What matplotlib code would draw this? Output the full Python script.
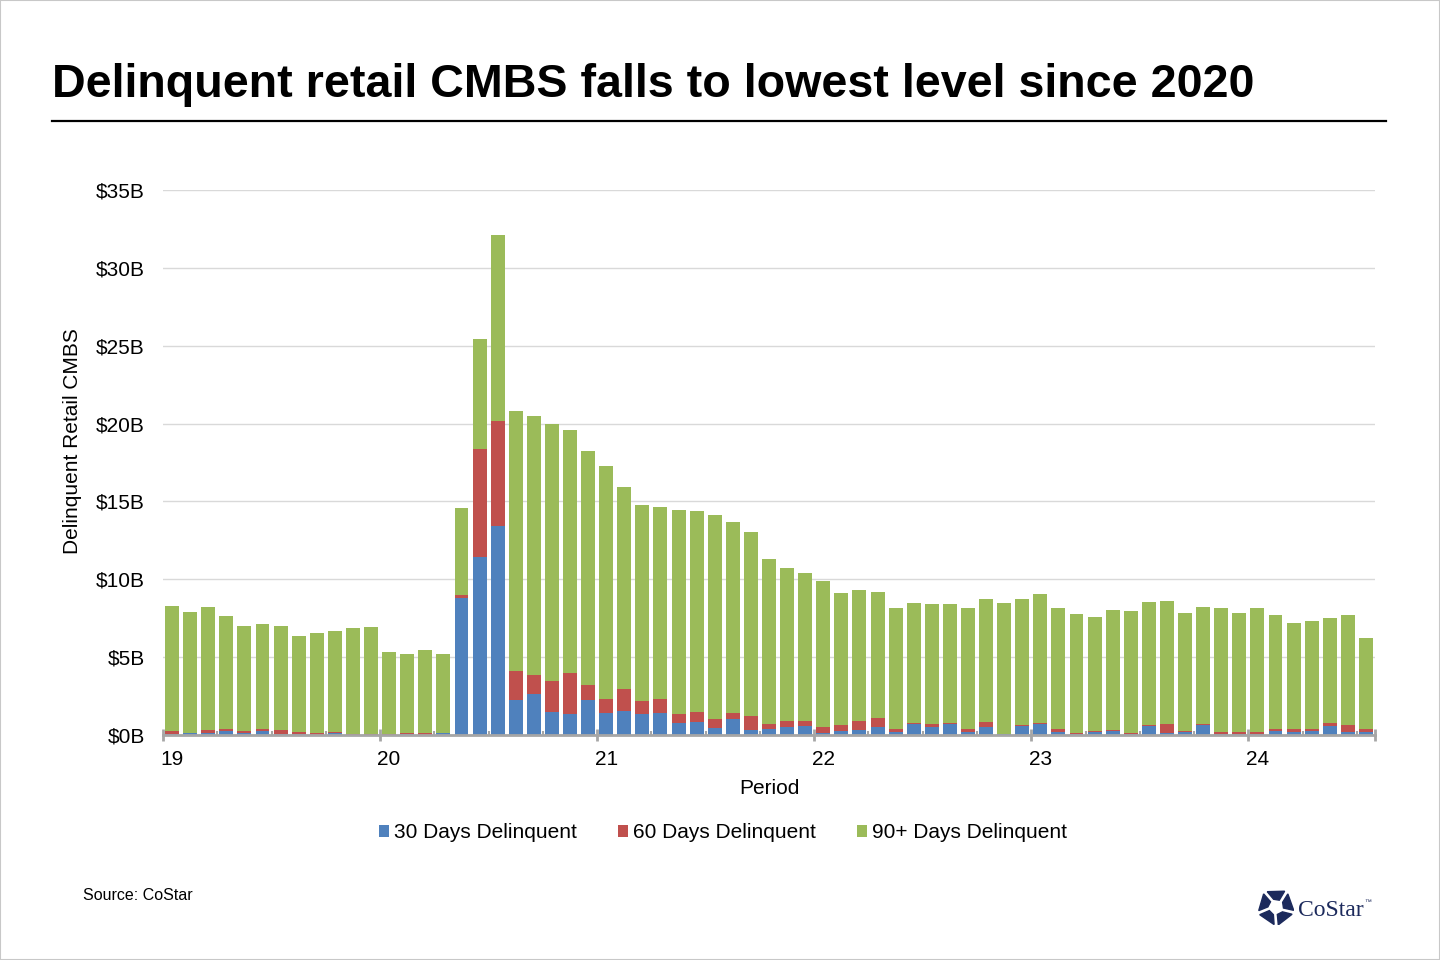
import numpy as np
import pandas as pd
import matplotlib
matplotlib.use("Agg")
import matplotlib.pyplot as plt
from matplotlib.patches import Patch, Rectangle, Polygon
from matplotlib.lines import Line2D

plt.rcParams['font.family'] = ['Liberation Sans', 'DejaVu Sans']

# monthly periods, Jan 2019 .. Jul 2024
months = pd.period_range('2019-01', '2024-07', freq='M').strftime('%Y-%m').tolist()
year_labels = ['19', '20', '21', '22', '23', '24']

# $ billions
days_30 = [0.05, 0.10, 0.15, 0.25, 0.15, 0.25, 0.05, 0.05, 0.02, 0.15, 0.02, 0.02,
           0.02, 0.05, 0.02, 0.13, 8.81, 11.40, 13.40, 2.25, 2.65, 1.48, 1.36, 2.25,
           1.44, 1.57, 1.37, 1.44, 0.79, 0.86, 0.43, 1.05, 0.34, 0.41, 0.49, 0.60,
           0.15, 0.28, 0.34, 0.54, 0.19, 0.73, 0.49, 0.73, 0.21, 0.54, 0.05, 0.56,
           0.69, 0.21, 0.06, 0.17, 0.28, 0.04, 0.56, 0.11, 0.17, 0.62, 0.09, 0.09,
           0.06, 0.24, 0.17, 0.24, 0.58, 0.17, 0.21]
days_60 = [0.20, 0.05, 0.15, 0.15, 0.10, 0.15, 0.25, 0.15, 0.08, 0.05, 0.05, 0.05,
           0.05, 0.07, 0.13, 0.02, 0.17, 6.95, 6.75, 1.88, 1.23, 2.02, 2.60, 0.97,
           0.86, 1.37, 0.84, 0.86, 0.58, 0.64, 0.62, 0.39, 0.90, 0.32, 0.43, 0.32,
           0.39, 0.39, 0.58, 0.58, 0.22, 0.06, 0.24, 0.06, 0.20, 0.32, 0.01, 0.06,
           0.06, 0.15, 0.07, 0.07, 0.02, 0.09, 0.06, 0.58, 0.07, 0.07, 0.08, 0.08,
           0.11, 0.12, 0.19, 0.12, 0.17, 0.45, 0.15]
days_90 = [8.05, 7.74, 7.90, 7.22, 6.72, 6.71, 6.67, 6.18, 6.43, 6.45, 6.77, 6.85,
           5.29, 5.05, 5.34, 5.02, 5.61, 7.05, 11.95, 16.67, 16.62, 16.45, 15.60, 15.03,
           15.00, 12.98, 12.55, 12.34, 13.07, 12.88, 13.07, 12.23, 11.79, 10.56, 9.79, 9.47,
           9.33, 8.43, 8.37, 8.04, 7.72, 7.66, 7.66, 7.60, 7.72, 7.85, 8.39, 8.09,
           8.28, 7.77, 7.62, 7.31, 7.70, 7.81, 7.90, 7.89, 7.57, 7.51, 7.96, 7.64,
           7.96, 7.32, 6.81, 6.94, 6.74, 7.06, 5.84]

series_names = ['30 Days Delinquent', '60 Days Delinquent', '90+ Days Delinquent']
colors = ['#4f81bd', '#c0504d', '#9bbb59']

fig = plt.figure(figsize=(14.4, 9.6), dpi=100)
W, H = 1440, 960

ax = fig.add_axes([163 / W, 1 - 735 / H, 1212 / W, 545 / H])

x = np.arange(len(months))
b30 = np.array(days_30)
b60 = np.array(days_60)
b90 = np.array(days_90)
ax.bar(x, b30, width=0.77, color=colors[0], zorder=2)
ax.bar(x, b60, width=0.77, bottom=b30, color=colors[1], zorder=2)
ax.bar(x, b90, width=0.77, bottom=b30 + b60, color=colors[2], zorder=2)

ax.set_xlim(-0.5, len(months) - 0.5)
ax.set_ylim(0, 35)
ax.set_yticks(np.arange(0, 36, 5))
ax.set_yticklabels(['$%dB' % v for v in range(0, 36, 5)])
ax.yaxis.grid(True, color='#d9d9d9', lw=1)
ax.set_axisbelow(True)

for s in ['left', 'top', 'right']:
    ax.spines[s].set_visible(False)
ax.spines['bottom'].set_color('#a6a6a6')
ax.spines['bottom'].set_linewidth(2)
ax.spines['bottom'].set_zorder(3)

# year labels under each January bar
jan_idx = [i for i, m in enumerate(months) if m.endswith('-01')]
ax.set_xticks(jan_idx)
ax.set_xticklabels(year_labels)
ax.tick_params(axis='x', length=0, pad=11, labelsize=15)
ax.tick_params(axis='y', length=0, pad=13, labelsize=15)

# quarter ticks (small, inward)
quarter_b = [i - 0.5 for i in range(len(months) + 1) if i % 3 == 0 and i % 12 != 0]
ax.set_xticks(quarter_b, minor=True)
ax.tick_params(axis='x', which='minor', direction='in', length=3, width=1.5, color='#a6a6a6')

# year boundary ticks
sec = ax.secondary_xaxis('bottom')
sec.set_xticks([i - 0.5 for i in jan_idx] + [len(months) - 0.5])
sec.set_xticklabels([])
sec.tick_params(direction='inout', length=9, width=2, color='#a6a6a6')
sec.spines['bottom'].set_visible(False)

fig.text(72 / W, 1 - 441 / H, 'Delinquent Retail CMBS', rotation=90,
         ha='center', va='center', fontsize=15)
fig.text(769 / W, 1 - 789 / H, 'Period', ha='center', va='center', fontsize=15)

handles = [Patch(facecolor=c, label=n) for c, n in zip(colors, series_names)]
fig.legend(handles=handles, loc='center', bbox_to_anchor=(723 / W, 1 - 833 / H),
           ncol=3, frameon=False, fontsize=15, handlelength=0.5, handleheight=0.5,
           handletextpad=0.25, columnspacing=1.95)

# title and rule
fig.text(52 / W, 1 - 97 / H, 'Delinquent retail CMBS falls to lowest level since 2020',
         fontsize=33.6, fontweight='bold', va='baseline', ha='left')
fig.add_artist(Line2D([52 / W, 1386 / W], [1 - 121 / H] * 2, color='black', lw=1.6))

fig.text(83 / W, 1 - 895 / H, 'Source: CoStar', fontsize=11.5, va='center', ha='left')

# CoStar logo: ring of five dark pieces around a white centre
lax = fig.add_axes([1258 / W, 1 - 925 / H, 36 / W, 36 / H])
lax.set_xlim(-1, 1)
lax.set_ylim(-1, 1)
lax.set_aspect('equal')
lax.axis('off')
for k in range(5):
    a = np.deg2rad(90 + 72 * k)
    pts = []
    for ang, r in [(a - 0.50, 1.0), (a + 0.52, 0.98), (a + 0.30, 0.45), (a - 0.45, 0.42)]:
        pts.append((r * np.cos(ang), r * np.sin(ang)))
    lax.add_patch(Polygon(pts, closed=True, color='#1c2a5c'))
fig.text(1298 / W, 1 - 916 / H, 'CoStar', family=['Liberation Serif', 'DejaVu Serif'],
         fontsize=17, color='#1c2a5c', va='baseline', ha='left')
fig.text(1364 / W, 1 - 904 / H, '™', fontsize=5, color='#1c2a5c', va='baseline', ha='left')

fig.add_artist(Rectangle((0, 0), 1, 1, transform=fig.transFigure, fill=False,
                         edgecolor='#c8c8c8', lw=1.5))

fig.savefig('out.png', dpi=100)
